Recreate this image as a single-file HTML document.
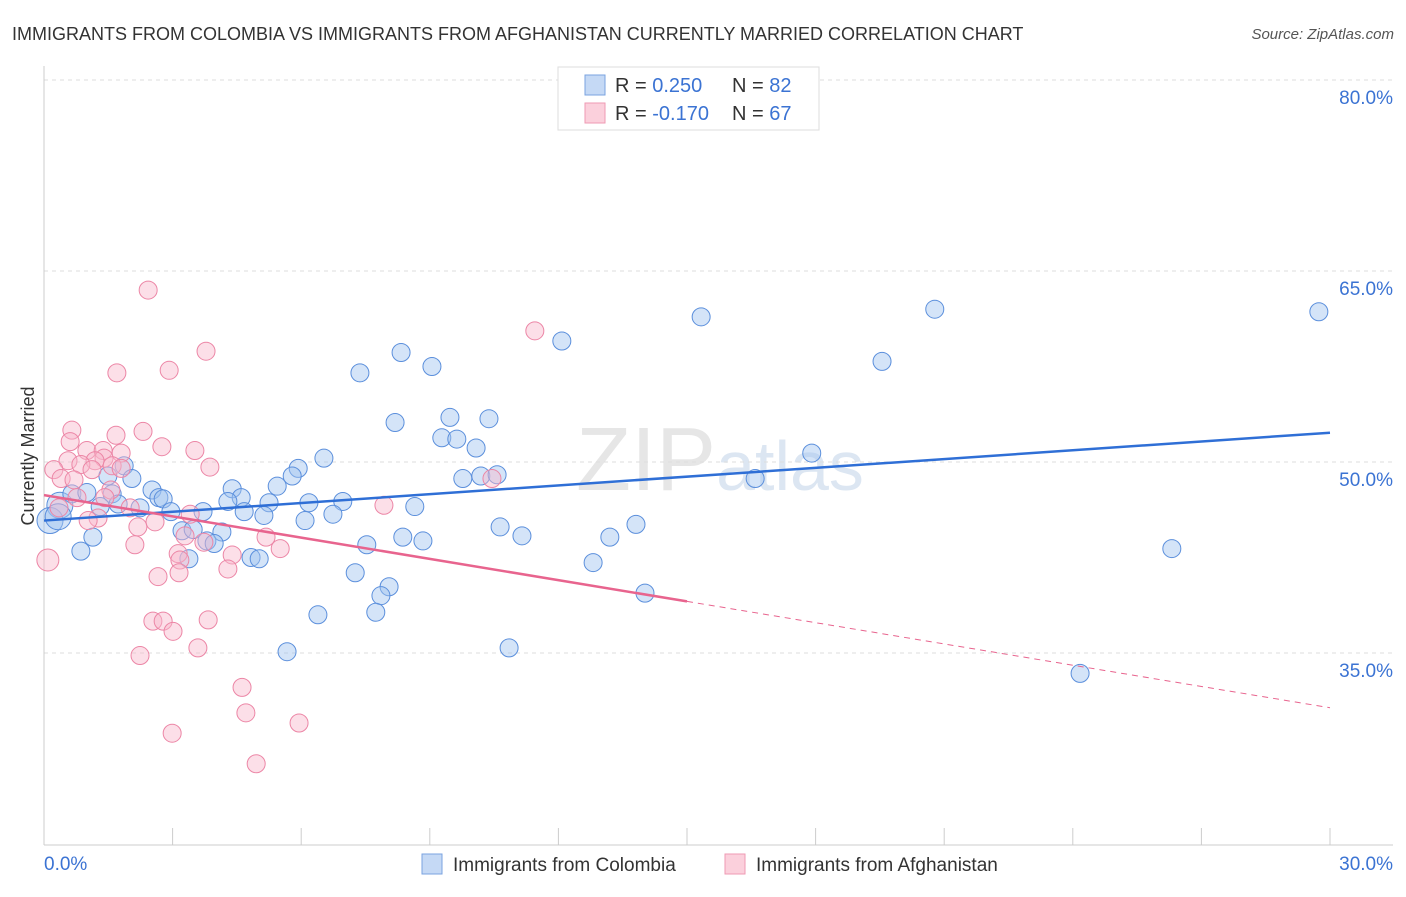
<!DOCTYPE html>
<html><head><meta charset="utf-8"><style>
body{margin:0;background:#fff;font-family:"Liberation Sans",sans-serif}
svg text{font-family:"Liberation Sans",sans-serif}
</style></head><body>
<svg id="chart" width="1406" height="892" xmlns="http://www.w3.org/2000/svg">
<text x="12" y="40" font-size="18" fill="#333">IMMIGRANTS FROM COLOMBIA VS IMMIGRANTS FROM AFGHANISTAN CURRENTLY MARRIED CORRELATION CHART</text>
<text x="1394" y="39" font-size="15" fill="#555" font-style="italic" text-anchor="end">Source: ZipAtlas.com</text>
<text x="720" y="490" font-size="90" fill="#e6e6e6" text-anchor="middle" font-family="Liberation Serif">ZIP<tspan fill="#dce6f2" font-family="Liberation Sans" font-size="70">atlas</tspan></text>
<g id="grid"></g><g id="axes"></g><g id="pts"></g><g id="lines"></g>
<text transform="translate(34,456) rotate(-90)" font-size="18" fill="#333" text-anchor="middle">Currently Married</text>
<g>
<rect x="558" y="67" width="261" height="63" fill="#fff" stroke="#ddd"/>
<rect x="585" y="75" width="20" height="20" fill="#c5d9f5" stroke="#7aa3e0"/>
<rect x="585" y="103" width="20" height="20" fill="#fbd0dc" stroke="#ef9ab3"/>
<text x="615" y="92" font-size="20" fill="#333">R = <tspan fill="#3b73d3">0.250</tspan><tspan x="732">N = </tspan><tspan fill="#3b73d3">82</tspan></text>
<text x="615" y="120" font-size="20" fill="#333">R = <tspan fill="#3b73d3">-0.170</tspan><tspan x="732">N = </tspan><tspan fill="#3b73d3">67</tspan></text>
</g>
<g>
<rect x="422" y="854" width="20" height="20" fill="#c5d9f5" stroke="#7aa3e0"/>
<text x="453" y="871" font-size="19" fill="#333">Immigrants from Colombia</text>
<rect x="725" y="854" width="20" height="20" fill="#fbd0dc" stroke="#ef9ab3"/>
<text x="756" y="871" font-size="19" fill="#333">Immigrants from Afghanistan</text>
</g>
</svg>
<script>
const yTicks=[35,50,65,80];
const xTickLabels=["0.0%","30.0%"];
const blueX=[29.74,20.78,15.33,12.08,19.55,8.33,9.05,7.37,8.19,9.47,10.38,9.28,9.63,10.08,17.91,6.53,5.93,5.79,9.77,10.19,10.57,16.59,1.87,1.49,2.05,5.44,4.39,2.52,1.59,2.68,2.78,4.60,4.29,5.25,6.18,6.97,1.73,1.31,2.24,2.96,3.71,4.67,5.13,8.65,6.09,6.74,0.37,0.14,0.33,0.65,1.00,10.64,13.81,11.15,13.20,3.22,3.48,4.15,1.14,3.80,3.97,8.37,8.84,7.53,0.86,3.38,4.83,5.02,12.81,26.31,7.26,8.05,7.86,14.02,6.39,7.74,5.67,10.85,24.17];
const blueY=[61.8,62.0,61.4,59.5,57.9,58.6,57.5,57.0,53.1,53.5,53.4,51.9,51.8,51.1,50.7,50.3,49.5,48.9,48.7,48.9,49.0,48.7,49.7,48.9,48.7,48.1,47.9,47.8,47.5,47.2,47.1,47.2,46.9,46.8,46.8,46.9,46.7,46.5,46.4,46.1,46.1,46.1,45.8,46.5,45.4,45.9,46.6,45.4,45.7,47.5,47.6,44.9,45.1,44.2,44.1,44.6,44.7,44.5,44.1,43.8,43.6,44.1,43.8,43.5,43.0,42.4,42.5,42.4,42.1,43.2,41.3,40.2,39.5,39.7,38.0,38.2,35.1,35.4,33.4];
const pinkX=[2.43,11.45,3.78,1.70,2.92,0.65,2.31,1.68,0.61,2.75,3.52,1.00,1.38,1.80,1.40,0.56,1.19,0.86,1.59,3.87,0.23,1.12,1.80,0.40,0.70,10.45,1.56,0.77,1.42,0.35,2.01,7.93,3.41,1.26,1.03,2.59,2.19,3.29,5.18,3.73,2.12,5.51,4.39,3.13,3.17,0.09,4.29,3.15,2.66,2.54,2.78,3.83,3.01,2.24,3.59,4.62,4.71,5.95,2.99,4.95];
const pinkY=[63.5,60.3,58.7,57.0,57.2,52.5,52.4,52.1,51.6,51.2,50.9,50.9,50.9,50.7,50.3,50.1,50.1,49.8,49.7,49.6,49.4,49.4,49.5,48.7,48.6,48.7,47.8,47.2,47.2,46.4,46.4,46.6,45.9,45.6,45.4,45.3,44.9,44.2,44.1,43.7,43.5,43.2,42.7,42.8,42.3,42.3,41.6,41.3,41.0,37.5,37.5,37.6,36.7,34.8,35.4,32.3,30.3,29.5,28.7,26.3];
const blueTrend=[45.4,52.3];   // value at x=0 and x=30
const pinkTrend=[47.4,30.7];   // value at x=0 and x=30
const pinkSolidEnd=15;
const NS="http://www.w3.org/2000/svg";
const X=v=>44+v*(1286/30);
const Y=v=>80+(80-v)*12.733;
function mk(t,a,p){const e=document.createElementNS(NS,t);for(const k in a)e.setAttribute(k,a[k]);p.appendChild(e);return e;}
const grid=document.getElementById('grid'),axes=document.getElementById('axes'),pts=document.getElementById('pts'),lines=document.getElementById('lines');
yTicks.forEach(t=>{
 const l=mk('line',{x1:44,x2:1393,y1:Y(t),y2:Y(t),stroke:'#ddd','stroke-dasharray':'4,4'},grid);
 
 
 const tx=mk('text',{x:1393,y:Y(t)+24,'font-size':19,fill:'#3b73d3','text-anchor':'end'},grid);
 tx.textContent=t.toFixed(1)+'%';
 
 
});
const ax=mk('line',{x1:44,x2:44,y1:66,y2:845,stroke:'#ccc'},axes);


const bx=mk('line',{x1:44,x2:1393,y1:845,y2:845,stroke:'#ccc'},axes);


for(let i=0;i<=10;i++){const t=mk('line',{x1:X(i*3),x2:X(i*3),y1:828,y2:845,stroke:'#ccc'},axes);
 
 }
const xl0=mk('text',{x:44,y:870,'font-size':19,fill:'#3b73d3'},axes);xl0.textContent=xTickLabels[0];


const xl1=mk('text',{x:1393,y:870,'font-size':19,fill:'#3b73d3','text-anchor':'end'},axes);xl1.textContent=xTickLabels[1];


blueX.forEach((v,i)=>{const c=mk('circle',{cx:X(v),cy:Y(blueY[i]),r:(v<0.5?13:9),fill:'rgba(160,195,240,0.45)',stroke:'#5b8fdc','stroke-width':1},pts);
 
 });
pinkX.forEach((v,i)=>{const c=mk('circle',{cx:X(v),cy:Y(pinkY[i]),r:(v<0.2?11:9),fill:'rgba(248,185,205,0.45)',stroke:'#ec86a6','stroke-width':1},pts);
 
 });
const bl=mk('line',{x1:X(0),y1:Y(blueTrend[0]),x2:X(30),y2:Y(blueTrend[1]),stroke:'#2f6fd6','stroke-width':2.5},lines);


const pm=pinkTrend[0]+(pinkTrend[1]-pinkTrend[0])*pinkSolidEnd/30;
const pl=mk('line',{x1:X(0),y1:Y(pinkTrend[0]),x2:X(pinkSolidEnd),y2:Y(pm),stroke:'#e8648e','stroke-width':2.5},lines);


const pd=mk('line',{x1:X(pinkSolidEnd),y1:Y(pm),x2:X(30),y2:Y(pinkTrend[1]),stroke:'#e8648e','stroke-width':1,'stroke-dasharray':'6,5'},lines);


</script>
</body></html>
